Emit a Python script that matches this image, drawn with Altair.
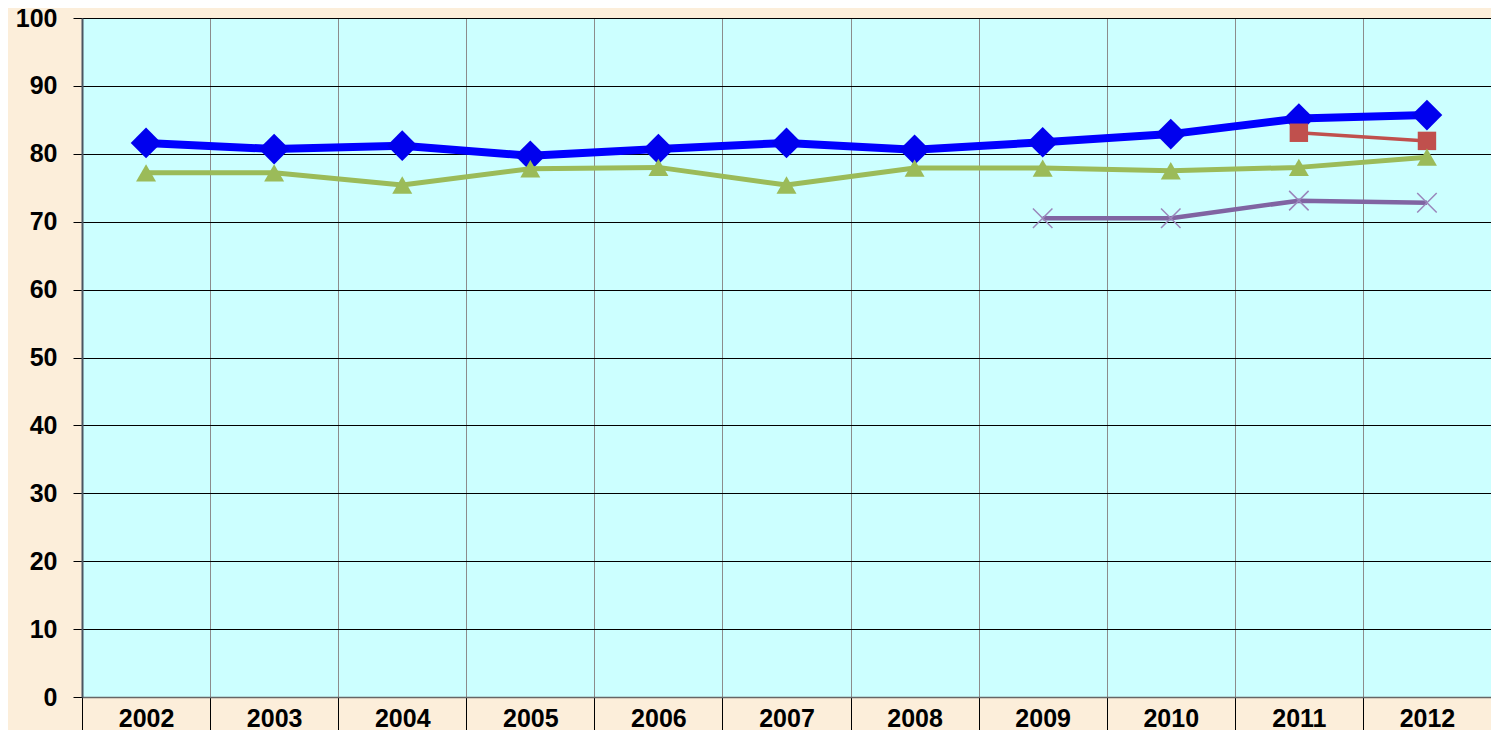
import altair as alt
import pandas as pd

years = [str(y) for y in range(2002, 2013)]
blue_vals = [81.6, 80.7, 81.2, 79.7, 80.7, 81.6, 80.6, 81.7, 82.9, 85.2, 85.7]
red_vals = [None, None, None, None, None, None, None, None, None, 83.1, 81.9]
green_vals = [77.2, 77.2, 75.4, 77.8, 78.0, 75.4, 77.9, 77.9, 77.5, 78.0, 79.5]
purple_vals = [None, None, None, None, None, None, None, 70.5, 70.5, 73.1, 72.8]

y_ticks = list(range(0, 101, 10))


def frame(vals):
    return pd.DataFrame(
        [{"year": y, "value": v} for y, v in zip(years, vals) if v is not None]
    )


x_enc = alt.X(
    "year:N",
    sort=years,
    scale=alt.Scale(domain=years, paddingInner=0, paddingOuter=0),
    axis=alt.Axis(
        title=None,
        grid=True,
        tickBand="extent",
        tickSize=48,
        tickColor="#000000",
        tickWidth=1,
        domainColor="#666666",
        domainWidth=1.5,
        gridColor="#8c8c8c",
        gridWidth=1,
        labelFont="Liberation Sans",
        labelFontWeight="bold",
        labelFontSize=25,
        labelColor="#000000",
        labelPadding=-39,
        labelBaseline="top",
        labelAngle=0,
    ),
)
y_enc = alt.Y(
    "value:Q",
    scale=alt.Scale(domain=[0, 100], nice=False, zero=True),
    axis=alt.Axis(
        title=None,
        values=y_ticks,
        tickSize=9,
        tickColor="#000000",
        domainColor="#4a5560",
        domainWidth=2,
        gridColor="#000000",
        gridWidth=1,
        labelFont="Liberation Sans",
        labelFontWeight="bold",
        labelFontSize=25,
        labelColor="#000000",
        labelPadding=16,
    ),
)


def series(vals, color, width, shape, size, filled=True, mcolor=None, mstroke=0):
    base = alt.Chart(frame(vals)).encode(x=x_enc, y=y_enc)
    line = base.mark_line(color=color, strokeWidth=width, strokeJoin="round")
    pt = base.mark_point(
        shape=shape,
        size=size,
        filled=filled,
        color=mcolor or color,
        opacity=1,
        strokeWidth=mstroke if mstroke else 1,
    )
    return [line, pt]


layers = []
layers += series(blue_vals, "#0000FF", 8, "diamond", 940, mcolor="#0000EE")
layers += series(red_vals, "#C0504D", 3.5, "square", 340)
layers += series(green_vals, "#9BBB59", 5, "triangle-up", 400)
layers += series(
    purple_vals,
    "#8064A2",
    4.5,
    "M-1,-1L1,1M-1,1L1,-1",
    380,
    filled=False,
    mcolor="#9a86bb",
    mstroke=1.5,
)

chart = (
    alt.layer(*layers)
    .properties(
        width=1409,
        height=679,
        background="#FCEEDA",
        padding={"left": 74, "top": 10, "right": 0, "bottom": 33},
        autosize=alt.AutoSizeParams(type="none"),
    )
    .configure_view(fill="#CCFFFF", stroke="#8c8c8c", strokeWidth=1)
)

chart.save("out.html", embed_options={"renderer": "svg", "actions": False})
